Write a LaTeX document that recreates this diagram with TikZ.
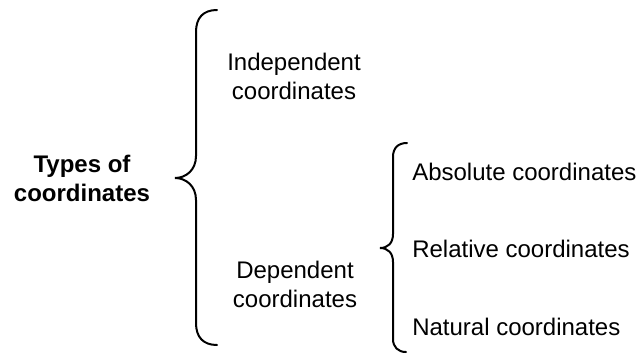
\documentclass[tikz,border=0pt]{standalone}
\usepackage{fontspec}
\setmainfont{Liberation Sans}
\begin{document}
\begin{tikzpicture}[x=0.75pt,y=-0.75pt,
  lbl/.style={inner sep=0pt,font=\fontsize{18pt}{21.75pt}\selectfont,align=center},
  item/.style={inner sep=0pt,anchor=west,font=\fontsize{18pt}{21.75pt}\selectfont},
  brace/.style={line width=1.5pt,line cap=round}]
\useasboundingbox[fill=white] (0,0) rectangle (638,353);
\node[lbl,font=\fontsize{18pt}{21.75pt}\selectfont\bfseries] (types) at (82,178) {Types of\\coordinates};
\node[lbl] (indep) at (294,76) {Independent\\coordinates};
\node[lbl] (dep) at (295,284) {Dependent\\coordinates};
\node[item] (abs) at (412,172) {Absolute coordinates};
\node[item] (rel) at (412,249) {Relative coordinates};
\node[item] (nat) at (412,327) {Natural coordinates};
% big brace
\draw[brace] (217,10) .. controls (203,10) and (196,18) .. (196,32) -- (196,156)
  .. controls (196,170) and (186,178) .. (175,178)
  .. controls (186,178) and (196,186) .. (196,200) -- (196,323)
  .. controls (196,337) and (203,345) .. (217,345);
% small brace
\draw[brace] (407,143) .. controls (398,143) and (393,148) .. (393,157) -- (393,234)
  .. controls (393,243) and (388,248) .. (380,248)
  .. controls (388,248) and (393,253) .. (393,262) -- (393,339)
  .. controls (393,347) and (398,352) .. (406,352);
\end{tikzpicture}
\end{document}
